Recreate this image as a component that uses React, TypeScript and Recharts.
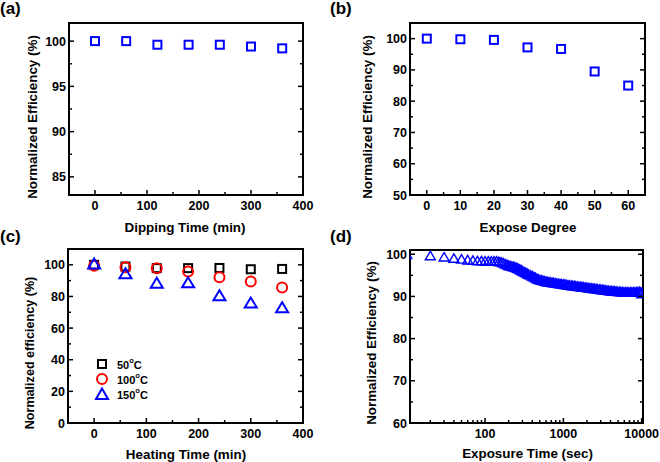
import React from "react";
import { ScatterChart, Scatter, XAxis, YAxis, Legend } from "recharts";

// (a) dipping test
const dippingTime = [0, 60, 120, 180, 240, 300, 360];
const dippingEff = [100, 100, 99.6, 99.6, 99.6, 99.4, 99.2];

// (b) expose degree
const exposeDegree = [0, 10, 20, 30, 40, 50, 60];
const exposeEff = [100, 99.8, 99.6, 97.2, 96.7, 89.5, 85];

// (c) heating test
const heatingTime = [0, 60, 120, 180, 240, 300, 360];
const heat50 = [100, 98.9, 97.9, 97.9, 98, 97.2, 97.4];
const heat100 = [99.4, 98.5, 97.9, 95.7, 92.1, 89.4, 85.7];
const heat150 = [100.4, 94.3, 88.3, 88.5, 80.4, 75.7, 72.8];
const heatLabels = ["50", "100", "150"];

// (d) light exposure
const exposureTime = [
  10, 20, 30, 40, 50, 60, 70, 80, 90, 100, 110, 120, 130, 140, 150, 160, 170, 180, 190, 200,
  210, 220, 230, 240, 250, 260, 270, 280, 290, 300, 315, 330, 345, 360, 380, 400, 420, 440, 460, 480,
  500, 525, 550, 575, 600, 630, 660, 690, 720, 750, 790, 830, 870, 910, 950, 1000,
  1050, 1100, 1150, 1200, 1260, 1320, 1380, 1440, 1510, 1580, 1650, 1730, 1810, 1900, 1990, 2080,
  2180, 2280, 2390, 2500, 2620, 2740, 2870, 3000, 3140, 3290, 3440, 3600, 3770, 3950, 4130, 4320,
  4520, 4730, 4950, 5180, 5420, 5670, 5940, 6220, 6510, 6810, 7130, 7460, 7810, 8170, 8550, 8950,
  9370, 9800, 10000,
];
const exposureEff = [
  99.9, 99.6, 99.3, 99.0, 98.8, 98.6, 98.5, 98.4, 98.4, 98.3, 98.3, 98.3, 98.3, 98.3, 98.2, 98.1, 97.9, 97.7, 97.5, 97.3,
  97.2, 97.1, 97.0, 96.9, 96.8, 96.6, 96.5, 96.3, 96.2, 96.0, 95.8, 95.6, 95.4, 95.2, 95.0, 94.8, 94.6, 94.4, 94.2, 94.0,
  93.9, 93.8, 93.7, 93.6, 93.5, 93.4, 93.35, 93.3, 93.25, 93.2, 93.1, 93.05, 93.0, 92.95, 92.9, 92.85,
  92.8, 92.7, 92.65, 92.6, 92.55, 92.5, 92.45, 92.4, 92.35, 92.3, 92.25, 92.2, 92.15, 92.1, 92.05, 92.0,
  91.95, 91.9, 91.85, 91.8, 91.75, 91.7, 91.65, 91.6, 91.55, 91.5, 91.45, 91.4, 91.35, 91.3, 91.25, 91.2,
  91.2, 91.15, 91.1, 91.1, 91.05, 91.05, 91.0, 91.0, 91.0, 90.95, 90.95, 90.95, 91.0, 91.0, 91.0, 91.05,
  91.1, 91.0, 90.6,
];

// ticks
const timeMajor = [0, 100, 200, 300, 400];
const timeMinor = [50, 150, 250, 350];
const dipMajor = [85, 90, 95, 100];
const dipMinor = [87.5, 92.5, 97.5];
const degMajor = [0, 10, 20, 30, 40, 50, 60];
const degMinor = [5, 15, 25, 35, 45, 55];
const degEffMajor = [50, 60, 70, 80, 90, 100];
const degEffMinor = [55, 65, 75, 85, 95];
const heatEffMajor = [0, 20, 40, 60, 80, 100];
const heatEffMinor = [10, 30, 50, 70, 90];
const logMajor = [100, 1000, 10000];
const logMinor = [20, 30, 40, 50, 60, 70, 80, 90, 200, 300, 400, 500, 600, 700, 800, 900, 2000, 3000, 4000, 5000, 6000, 7000, 8000, 9000];
const expEffMajor = [60, 70, 80, 90, 100];
const expEffMinor = [65, 75, 85, 95];

const FONT = "'Liberation Sans', Arial, Helvetica, sans-serif";
const BLUE = "#0000ff";
const RED = "#ff0000";

const toPoints = (xs: number[], ys: number[]) => xs.map((x, i) => ({ x, y: ys[i] }));

type Side = "bottom" | "top" | "left" | "right";

function makeTick(side: Side, majors: number[]) {
  return (p: any) => {
    const { x, y } = p;
    const v = p.payload.value;
    const major = majors.includes(v);
    const len = major ? 5 : 3;
    const line = { stroke: "#000", strokeWidth: 1.5 };
    if (side === "bottom")
      return (
        <g>
          <line x1={x} y1={y} x2={x} y2={y - len} {...line} />
          {major && (
            <text x={x} y={y + 14.5} textAnchor="middle" fontFamily={FONT} fontWeight="bold" fontSize={12.5} fill="#000">
              {v}
            </text>
          )}
        </g>
      );
    if (side === "top") return <line x1={x} y1={y} x2={x} y2={y + len} {...line} />;
    if (side === "left")
      return (
        <g>
          <line x1={x} y1={y} x2={x + len} y2={y} {...line} />
          {major && (
            <text x={x - 3} y={y + 4.5} textAnchor="end" fontFamily={FONT} fontWeight="bold" fontSize={12.5} fill="#000">
              {v}
            </text>
          )}
        </g>
      );
    return <line x1={x} y1={y} x2={x - len} y2={y} {...line} />;
  };
}

const axisLine = { stroke: "#000", strokeWidth: 2, strokeLinecap: "square" as const };

// bottom axis takes 30px, left axis 60px, mirrored axes 5px each
function frameAxes(
  xDomain: [number, number],
  yDomain: [number, number],
  xMajor: number[],
  xMinor: number[],
  yMajor: number[],
  yMinor: number[],
  logX = false
) {
  const xTicks = [...xMajor, ...xMinor].sort((a, b) => a - b);
  const yTicks = [...yMajor, ...yMinor].sort((a, b) => a - b);
  const common = { tickSize: 0, tickMargin: 0, tickLine: false, axisLine, interval: 0 as const, allowDataOverflow: true };
  return [
    <XAxis key="xb" xAxisId={0} dataKey="x" type="number" scale={logX ? "log" : "linear"} domain={xDomain} ticks={xTicks} height={30} tick={makeTick("bottom", xMajor)} {...common} />,
    <XAxis key="xt" xAxisId="top" orientation="top" type="number" scale={logX ? "log" : "linear"} domain={xDomain} ticks={xTicks} height={5} tick={makeTick("top", xMajor)} {...common} />,
    <YAxis key="yl" yAxisId={0} dataKey="y" type="number" domain={yDomain} ticks={yTicks} width={60} tick={makeTick("left", yMajor)} {...common} />,
    <YAxis key="yr" yAxisId="right" orientation="right" type="number" domain={yDomain} ticks={yTicks} width={5} tick={makeTick("right", yMajor)} {...common} />,
  ];
}

const square = (color: string, size = 8, sw = 2) => (p: any) =>
  <rect x={p.cx - size / 2} y={p.cy - size / 2} width={size} height={size} fill="none" stroke={color} strokeWidth={sw} />;

const circle = (color: string, r = 5, sw = 2) => (p: any) =>
  <circle cx={p.cx} cy={p.cy} r={r} fill="none" stroke={color} strokeWidth={sw} />;

const triangle = (color: string, w = 11, h = 9.5, sw = 2) => (p: any) => {
  const top = p.cy - (h * 2) / 3 + 1;
  const bot = p.cy + h / 3 + 1;
  return (
    <polygon
      points={`${p.cx},${top} ${p.cx - w / 2},${bot} ${p.cx + w / 2},${bot}`}
      fill="none"
      stroke={color}
      strokeWidth={sw}
      strokeLinejoin="miter"
    />
  );
};

function HeatLegend() {
  const markers = [
    <rect key="s" x={3} y={3} width={8} height={8} fill="none" stroke="#000" strokeWidth={2} />,
    <circle key="c" cx={7} cy={7} r={5} fill="none" stroke={RED} strokeWidth={2} />,
    <polygon key="t" points="7,1.5 1,12 13,12" fill="none" stroke={BLUE} strokeWidth={2} />,
  ];
  return (
    <div style={{ fontFamily: FONT, fontWeight: "bold", fontSize: 11, color: "#000" }}>
      {heatLabels.map((l, i) => (
        <div key={l} style={{ display: "flex", alignItems: "center", height: 15.3 }}>
          <svg width={14} height={14} style={{ marginRight: 8, overflow: "visible" }}>
            {markers[i]}
          </svg>
          <span>
            {l}
            <sup style={{ fontSize: 7.5, position: "relative", top: -1 }}>o</sup>C
          </span>
        </div>
      ))}
    </div>
  );
}

const W = 330;
const H = 231;

export default function App() {
  const titleStyle = { fontFamily: FONT, fontWeight: "bold" as const, fontSize: 13.4, fill: "#000" };
  return (
    <div style={{ position: "absolute", left: 0, top: 0, width: 660, height: 462, background: "#fff" }}>
      <div style={{ position: "absolute", left: 0, top: 0 }}>
        <ScatterChart width={W} height={H} margin={{ top: 18, right: 22, bottom: 6, left: 9 }}>
          {frameAxes([-50, 400], [83, 102], timeMajor, timeMinor, dipMajor, dipMinor)}
          <Scatter data={toPoints(dippingTime, dippingEff)} shape={square(BLUE)} isAnimationActive={false} />
        </ScatterChart>
      </div>
      <div style={{ position: "absolute", left: 330, top: 0 }}>
        <ScatterChart width={W} height={H} margin={{ top: 18, right: 10, bottom: 6, left: 20 }}>
          {frameAxes([-5, 65], [50, 105], degMajor, degMinor, degEffMajor, degEffMinor)}
          <Scatter data={toPoints(exposeDegree, exposeEff)} shape={square(BLUE)} isAnimationActive={false} />
        </ScatterChart>
      </div>
      <div style={{ position: "absolute", left: 0, top: 231 }}>
        <ScatterChart width={W} height={H} margin={{ top: 13, right: 22, bottom: 9, left: 8 }}>
          {frameAxes([-50, 400], [0, 110], timeMajor, timeMinor, heatEffMajor, heatEffMinor)}
          <Scatter name="50" data={toPoints(heatingTime, heat50)} shape={square("#000")} isAnimationActive={false} />
          <Scatter name="100" data={toPoints(heatingTime, heat100)} shape={circle(RED)} isAnimationActive={false} />
          <Scatter name="150" data={toPoints(heatingTime, heat150)} shape={triangle(BLUE, 12, 10)} isAnimationActive={false} />
          <Legend
            layout="vertical"
            align="center"
            verticalAlign="middle"
            content={() => <HeatLegend />}
            wrapperStyle={{ left: 95, top: 125, width: 90, height: 48 }}
          />
        </ScatterChart>
      </div>
      <div style={{ position: "absolute", left: 330, top: 231 }}>
        <ScatterChart width={W} height={H} margin={{ top: 14, right: 12, bottom: 9, left: 20 }}>
          {frameAxes([11, 10400], [60, 101], logMajor, logMinor, expEffMajor, expEffMinor, true)}
          <Scatter data={toPoints(exposureTime, exposureEff)} shape={triangle(BLUE, 10, 8.5, 1.4)} isAnimationActive={false} />
        </ScatterChart>
      </div>
      <svg width={660} height={462} style={{ position: "absolute", left: 0, top: 0, pointerEvents: "none" }}>
        <g fontFamily={FONT} fontWeight="bold" fontSize={17} fill="#000">
          <text x={0} y={14}>(a)</text>
          <text x={330} y={14}>(b)</text>
          <text x={0} y={242}>(c)</text>
          <text x={330} y={242}>(d)</text>
        </g>
        <text {...titleStyle} x={185} y={231.5} textAnchor="middle">Dipping Time (min)</text>
        <text {...titleStyle} x={528} y={231.5} textAnchor="middle">Expose Degree</text>
        <text {...titleStyle} x={186} y={458.5} textAnchor="middle">Heating Time (min)</text>
        <text {...titleStyle} x={527.5} y={458} textAnchor="middle">Exposure Time (sec)</text>
        <text {...titleStyle} x={37} y={117} textAnchor="middle" transform="rotate(-90 37 117)">Normalized Efficiency (%)</text>
        <text {...titleStyle} x={371.5} y={117} textAnchor="middle" transform="rotate(-90 371.5 117)">Normalized Efficiency (%)</text>
        <text {...titleStyle} fontSize={12.6} x={34} y={353} textAnchor="middle" transform="rotate(-90 34 353)">Normalized efficiency (%)</text>
        <text {...titleStyle} x={376} y={343} textAnchor="middle" transform="rotate(-90 376 343)">Normalized Efficiency (%)</text>
      </svg>
    </div>
  );
}
